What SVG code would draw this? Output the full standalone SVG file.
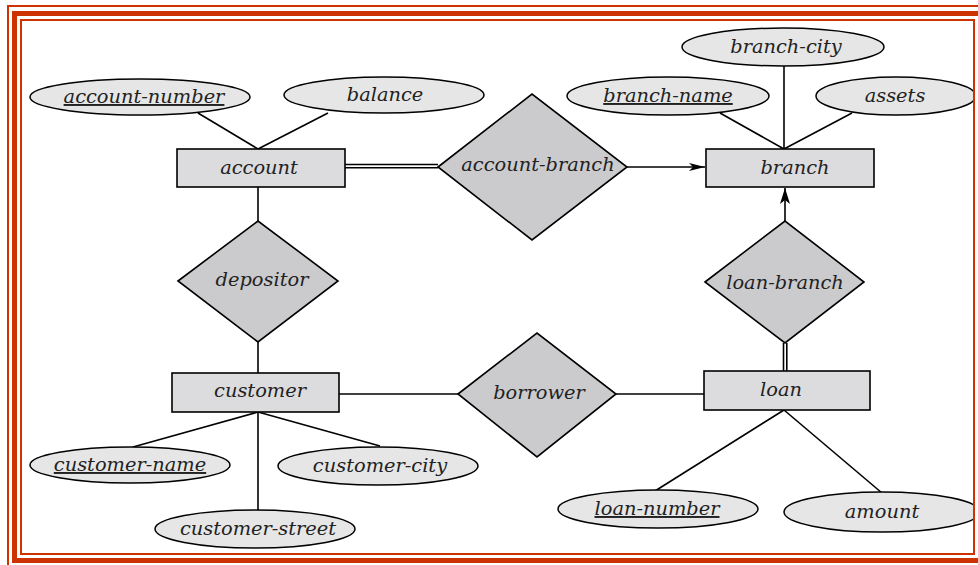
<svg xmlns="http://www.w3.org/2000/svg" width="978" height="565" viewBox="0 0 978 565">
<defs>
<style>
.ent{fill:#DCDCDE;stroke:#000;stroke-width:1.6}
.rel{fill:#CBCBCE;stroke:#000;stroke-width:1.6}
.att{fill:#E6E6E6;stroke:#000;stroke-width:1.5}
.lbl{font-family:"DejaVu Serif","Liberation Serif",serif;font-style:italic;font-size:19.4px;fill:#222;text-anchor:middle}
.key{text-decoration:underline}
.ln{stroke:#000;stroke-width:1.6;fill:none}
.frame{fill:none;stroke:#CC3300}
</style>
<marker id="arr" viewBox="0 0 16 8" refX="16" refY="4" markerWidth="16" markerHeight="8" markerUnits="userSpaceOnUse" orient="auto">
<path d="M0,0 L16,4 L0,8 L4,4 Z" fill="#000"/>
</marker>
<marker id="arr2" viewBox="0 0 16 10" refX="16" refY="5" markerWidth="16" markerHeight="10" markerUnits="userSpaceOnUse" orient="auto">
<path d="M0,0 L16,5 L0,10 L4,5 Z" fill="#000"/>
</marker>
<clipPath id="inner"><rect x="21" y="20" width="953" height="534"/></clipPath>
</defs>
<rect x="0" y="0" width="978" height="565" fill="#fff"/>
<g clip-path="url(#inner)">
<g id="connectors">
<line class="ln" x1="198" y1="113" x2="258" y2="149"/>
<line class="ln" x1="328" y1="113" x2="258" y2="149"/>
<line class="ln" x1="258" y1="187" x2="258" y2="221"/>
<line class="ln" x1="258" y1="342" x2="258" y2="373"/>
<line class="ln" x1="345" y1="164.5" x2="438" y2="164.5" stroke-width="1.3"/>
<line class="ln" x1="345" y1="167.8" x2="438" y2="167.8" stroke-width="1.3"/>
<line class="ln" x1="627" y1="167" x2="705" y2="167" marker-end="url(#arr)"/>
<line class="ln" x1="785" y1="221" x2="785" y2="188" marker-end="url(#arr2)"/>
<line class="ln" x1="783.5" y1="343" x2="783.5" y2="371" stroke-width="1.3"/>
<line class="ln" x1="786.8" y1="343" x2="786.8" y2="371" stroke-width="1.3"/>
<line class="ln" x1="720" y1="113" x2="784" y2="149"/>
<line class="ln" x1="852" y1="113" x2="784" y2="149"/>
<line class="ln" x1="784" y1="66" x2="784" y2="149"/>
<line class="ln" x1="339" y1="394" x2="458" y2="394"/>
<line class="ln" x1="616" y1="394" x2="704" y2="394"/>
<line class="ln" x1="258" y1="412" x2="133" y2="447"/>
<line class="ln" x1="258" y1="412" x2="380" y2="446"/>
<line class="ln" x1="258" y1="412" x2="258" y2="511"/>
<line class="ln" x1="784" y1="410" x2="655" y2="491"/>
<line class="ln" x1="784" y1="410" x2="882" y2="493"/>
</g>
<g id="account-number"><ellipse class="att" cx="140" cy="97" rx="110" ry="18"/><text class="lbl key" x="144" y="103">account-number</text></g>
<g id="balance"><ellipse class="att" cx="384" cy="95" rx="100" ry="18"/><text class="lbl" x="385" y="101">balance</text></g>
<g id="branch-city"><ellipse class="att" cx="783" cy="47" rx="101" ry="19"/><text class="lbl" x="786" y="53">branch-city</text></g>
<g id="branch-name"><ellipse class="att" cx="668" cy="96" rx="101" ry="19"/><text class="lbl key" x="668" y="102">branch-name</text></g>
<g id="assets"><ellipse class="att" cx="896" cy="96" rx="80" ry="19"/><text class="lbl" x="895" y="102">assets</text></g>
<g id="account"><rect class="ent" x="177" y="149" width="168" height="38"/><text class="lbl" x="259" y="174">account</text></g>
<g id="branch"><rect class="ent" x="706" y="149" width="168" height="38"/><text class="lbl" x="795" y="174">branch</text></g>
<g id="account-branch"><polygon class="rel" points="438,167 532,94 627,167 532,240"/><text class="lbl" x="538" y="171">account-branch</text></g>
<g id="depositor"><polygon class="rel" points="178,281 258,221 338,281 258,342"/><text class="lbl" x="262" y="286">depositor</text></g>
<g id="loan-branch"><polygon class="rel" points="705,282 785,221 864,282 785,343"/><text class="lbl" x="785" y="289">loan-branch</text></g>
<g id="customer"><rect class="ent" x="172" y="373" width="167" height="39"/><text class="lbl" x="260" y="397">customer</text></g>
<g id="borrower"><polygon class="rel" points="458,394 537,333 616,394 537,457"/><text class="lbl" x="539" y="399">borrower</text></g>
<g id="loan"><rect class="ent" x="704" y="371" width="166" height="39"/><text class="lbl" x="781" y="396">loan</text></g>
<g id="customer-name"><ellipse class="att" cx="130" cy="465" rx="100" ry="18"/><text class="lbl key" x="130" y="471">customer-name</text></g>
<g id="customer-city"><ellipse class="att" cx="378" cy="466" rx="100" ry="19"/><text class="lbl" x="380" y="472">customer-city</text></g>
<g id="customer-street"><ellipse class="att" cx="255" cy="529" rx="100" ry="19"/><text class="lbl" x="258" y="535">customer-street</text></g>
<g id="loan-number"><ellipse class="att" cx="658" cy="509" rx="100" ry="19"/><text class="lbl key" x="657" y="515">loan-number</text></g>
<g id="amount"><ellipse class="att" cx="882" cy="512" rx="98" ry="20"/><text class="lbl" x="882" y="518">amount</text></g>
</g>
<g id="frame">
<rect class="frame" x="8" y="6" width="980" height="562" stroke-width="2"/>
<rect class="frame" x="14.5" y="13.5" width="966" height="547" stroke-width="5"/>
<rect class="frame" x="21" y="20" width="953" height="534" stroke-width="2"/>
</g>
</svg>
